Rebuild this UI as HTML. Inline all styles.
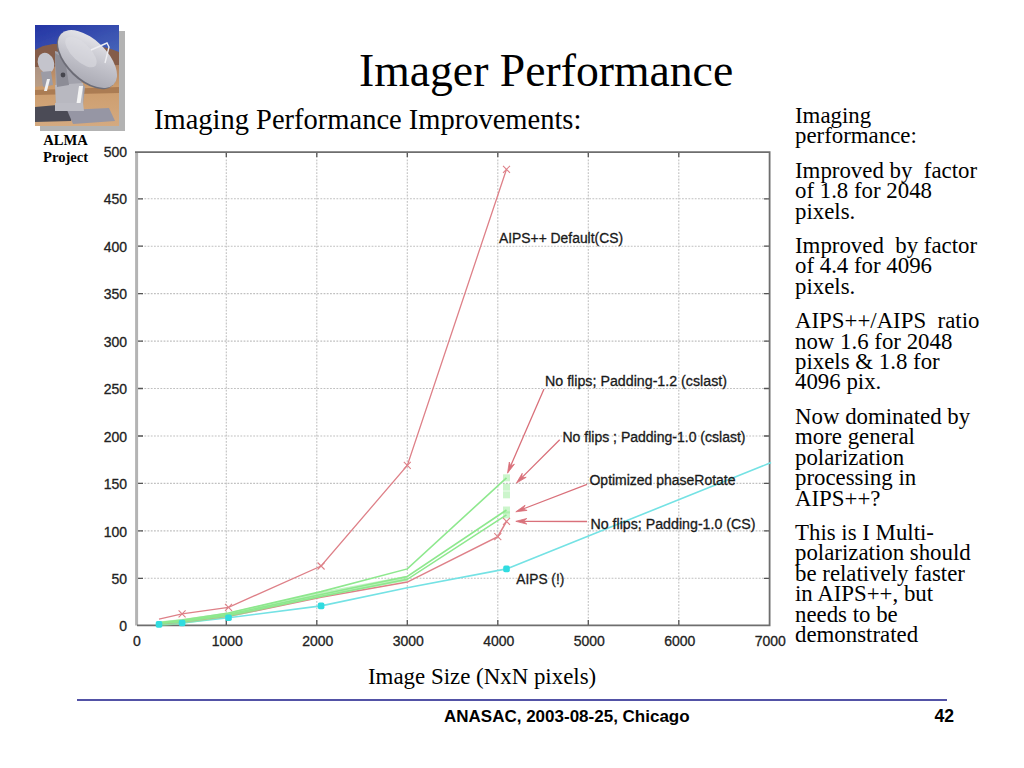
<!DOCTYPE html>
<html><head><meta charset="utf-8">
<style>
html,body{margin:0;padding:0;background:#fff;width:1024px;height:768px;overflow:hidden;position:relative}
.t{position:absolute;white-space:pre;color:#000;font-family:"Liberation Serif",serif}
#title{left:359px;top:48px;font-size:45.7px;line-height:45px}
#sub{left:154px;top:105.5px;font-size:28.5px;line-height:28px}
#right{left:795px;top:106px;font-size:22.85px;line-height:20.4px}
#right p{margin:0 0 14px 0}
#cap{left:368px;top:666px;font-size:22.9px;line-height:22px}
#alma{left:43px;top:132px;font-size:14.6px;line-height:17px;font-weight:bold;text-align:center}
.f{position:absolute;white-space:pre;font-family:"Liberation Sans",sans-serif;font-weight:bold;font-size:17px;line-height:17px;color:#000}
#foot{left:444px;top:707.5px}
#num{left:934.5px;top:707.5px;font-size:17.6px}
#rule{position:absolute;left:77px;top:699px;width:870px;height:2px;background:#5252a6}
svg{position:absolute;left:0;top:0}
</style></head><body>
<div id="title" class="t">Imager Performance</div>
<div id="sub" class="t">Imaging Performance Improvements:</div>
<div id="right" class="t"><p>Imaging
performance:</p><p>Improved by  factor
of 1.8 for 2048
pixels.</p><p>Improved  by factor
of 4.4 for 4096
pixels.</p><p>AIPS++/AIPS  ratio
now 1.6 for 2048
pixels &amp; 1.8 for
4096 pix.</p><p>Now dominated by
more general
polarization
processing in
AIPS++?</p><p>This is I Multi-
polarization should
be relatively faster
in AIPS++, but
needs to be
demonstrated</p></div>
<div id="cap" class="t">Image Size (NxN pixels)</div>
<div style="position:absolute;left:40px;top:31px;width:85px;height:100px;background:#b3b3b3"></div>
<svg style="left:35px;top:25px" width="84" height="101" viewBox="0 0 84 101">
<defs>
<linearGradient id="sky" x1="0" y1="0" x2="0.3" y2="1"><stop offset="0" stop-color="#2434a4"/><stop offset="0.6" stop-color="#4c6cbc"/><stop offset="1" stop-color="#8094c8"/></linearGradient>
<linearGradient id="gnd" x1="0" y1="0" x2="0" y2="1"><stop offset="0" stop-color="#b08464"/><stop offset="0.35" stop-color="#cc9c6c"/><stop offset="1" stop-color="#d4aa80"/></linearGradient>
<linearGradient id="dish" x1="0.1" y1="0" x2="0.9" y2="1"><stop offset="0" stop-color="#ececf0"/><stop offset="0.5" stop-color="#c4c4cc"/><stop offset="1" stop-color="#a4a4ae"/></linearGradient>
<filter id="bl" x="-5%" y="-5%" width="110%" height="110%"><feGaussianBlur stdDeviation="0.5"/></filter>
</defs>
<g filter="url(#bl)">
<rect width="84" height="101" fill="url(#sky)"/>
<path d="M0,25 L8,21 L18,19 L28,19 L40,21 L52,19 L64,21 L76,24 L84,27 L84,101 L0,101Z" fill="#845c48"/>
<path d="M0,42 L84,40 L84,101 L0,101Z" fill="url(#gnd)"/>
<path d="M0,65 L84,62 L84,68 L0,70Z" fill="#946440" opacity="0.6"/>
<path d="M0,42 L14,42 L14,60 L0,62Z" fill="#a8a0a0" opacity="0.5"/>
<ellipse cx="11" cy="38" rx="8" ry="10.5" transform="rotate(-20 11 38)" fill="#c4c4cc"/>
<path d="M6,47 L16,46 L18,60 L8,62Z" fill="#9c9ca6"/>
<path d="M12,54 L15,54 L12,66 L9,66Z" fill="#f0f0f0"/>
<path d="M20,26 L34,30 L46,56 L50,62 L48,80 L21,80Z" fill="#a2a2ac"/>
<path d="M20,60 L48,58 L48,80 L21,80Z" fill="#b8b8c0"/>
<path d="M20,28 L30,34 L34,60 L22,62Z" fill="#8c8c96"/>
<path d="M44,61 L48,61 L45,82 L41,82Z" fill="#f4f4f4"/>
<circle cx="28" cy="50" r="2.4" fill="#44444e"/>
<ellipse cx="51.5" cy="35" rx="36.5" ry="20" transform="rotate(44 51.5 35)" fill="#6c6c76"/><ellipse cx="52.5" cy="34" rx="36.5" ry="19.5" transform="rotate(44 52.5 34)" fill="url(#dish)"/>

<ellipse cx="46" cy="27" rx="20" ry="9" transform="rotate(44 46 27)" fill="#dedee4" opacity="0.55"/>
<path d="M56,25 L72,18 L74,22 L70,38" stroke="#eeeef2" stroke-width="1.4" fill="none"/>
<path d="M0,82 L22,80 L40,84 L36,96 L0,97Z" fill="#4c4c56"/>
<path d="M32,85 L74,83 L80,96 L38,99Z" fill="#9696a4"/>
<path d="M20,78 L48,78 L49,86 L20,86Z" fill="#bcbcc4"/>
</g>
</svg>
<div id="alma" class="t">ALMA
Project</div>
<div id="rule"></div>
<div id="foot" class="f">ANASAC, 2003-08-25, Chicago</div>
<div id="num" class="f">42</div>
<!--CHART--><svg width="1024" height="768" viewBox="0 0 1024 768">
<path d="M226.3,153V625M316.8,153V625M407.3,153V625M497.8,153V625M588.3,153V625M678.8,153V625M138,578.3H769M138,530.9H769M138,483.4H769M138,436.0H769M138,388.5H769M138,341.1H769M138,293.6H769M138,246.2H769M138,198.8H769" stroke="#c0c0c0" stroke-width="1.1" stroke-dasharray="1.8,1.4" fill="none"/>
<path d="M226.3,153v4M226.3,625v-5M316.8,153v4M316.8,625v-5M407.3,153v4M407.3,625v-5M497.8,153v4M497.8,625v-5M588.3,153v4M588.3,625v-5M678.8,153v4M678.8,625v-5M138,578.3h5M769,578.3h-5M138,530.9h5M769,530.9h-5M138,483.4h5M769,483.4h-5M138,436.0h5M769,436.0h-5M138,388.5h5M769,388.5h-5M138,341.1h5M769,341.1h-5M138,293.6h5M769,293.6h-5M138,246.2h5M769,246.2h-5M138,198.8h5M769,198.8h-5" stroke="#555" stroke-width="1.3" fill="none"/>
<path d="M136.6,152.2V625.5" stroke="#b4b4b4" stroke-width="3" fill="none"/>
<path d="M135,152.2H769.6V625.4H137" stroke="#6e6e6e" stroke-width="1.8" fill="none"/>
<g font-family="Liberation Sans" font-size="14" fill="#222" stroke="#222" stroke-width="0.3"><text x="127" y="631.4" text-anchor="end">0</text><text x="127" y="583.9" text-anchor="end">50</text><text x="127" y="536.5" text-anchor="end">100</text><text x="127" y="489.0" text-anchor="end">150</text><text x="127" y="441.6" text-anchor="end">200</text><text x="127" y="394.1" text-anchor="end">250</text><text x="127" y="346.7" text-anchor="end">300</text><text x="127" y="299.2" text-anchor="end">350</text><text x="127" y="251.8" text-anchor="end">400</text><text x="127" y="204.3" text-anchor="end">450</text><text x="127" y="156.9" text-anchor="end">500</text><text x="136.8" y="645.5" text-anchor="middle">0</text><text x="227.3" y="645.5" text-anchor="middle">1000</text><text x="317.8" y="645.5" text-anchor="middle">2000</text><text x="408.3" y="645.5" text-anchor="middle">3000</text><text x="498.8" y="645.5" text-anchor="middle">4000</text><text x="589.3" y="645.5" text-anchor="middle">5000</text><text x="679.8" y="645.5" text-anchor="middle">6000</text><text x="770.3" y="645.5" text-anchor="middle">7000</text></g>
<polyline points="159.0,624.4 182.1,623.0 228.5,617.7 321.1,605.9 407.3,587.8 506.5,568.9 771.1,462.6" fill="none" stroke="#74e2e4" stroke-width="1.6"/>
<polyline points="159.0,623.9 182.1,622.0 228.5,616.3 321.1,597.3 407.3,582.1 497.8,536.6 506.5,521.4" fill="none" stroke="#de8088" stroke-width="1.6"/>
<polyline points="159.0,623.4 182.1,621.5 228.5,615.4 321.1,596.4 407.3,579.3 506.5,514.8" fill="none" stroke="#8ee88e" stroke-width="1.6"/>
<polyline points="159.0,623.0 182.1,621.1 228.5,614.4 321.1,594.5 407.3,576.5 506.5,510.0" fill="none" stroke="#8ee88e" stroke-width="1.6"/>
<polyline points="159.0,622.5 182.1,620.1 228.5,613.0 321.1,591.6 407.3,568.9 506.5,477.8" fill="none" stroke="#8ee88e" stroke-width="1.6"/>
<polyline points="159.0,623.9 182.1,621.5 228.5,614.9 321.1,594.5 407.3,578.3" fill="none" stroke="#8ee88e" stroke-width="5" opacity="0.55"/>
<rect x="503.0" y="474.3" width="7" height="7" fill="#8ee88e" opacity="0.45"/><rect x="503.0" y="483.7" width="7" height="7" fill="#8ee88e" opacity="0.45"/><rect x="503.0" y="491.3" width="7" height="7" fill="#8ee88e" opacity="0.45"/><rect x="503.0" y="506.5" width="7" height="7" fill="#8ee88e" opacity="0.45"/><rect x="503.0" y="511.3" width="7" height="7" fill="#8ee88e" opacity="0.45"/>
<polyline points="159.0,619.2 182.1,613.9 228.5,607.3 321.1,566.0 407.3,465.4 506.5,169.3" fill="none" stroke="#de8088" stroke-width="1.3"/>
<path d="M178.6,610.4l7,7m0,-7l-7,7M225.0,603.8l7,7m0,-7l-7,7M317.6,562.5l7,7m0,-7l-7,7M403.8,461.9l7,7m0,-7l-7,7M503.0,165.8l7,7m0,-7l-7,7M503.0,517.9l7,7m0,-7l-7,7M494.3,533.1l7,7m0,-7l-7,7" stroke="#de8088" stroke-width="1.1" fill="none"/>
<rect x="155.7" y="621.1" width="6.6" height="6.6" rx="1.8" fill="#30dce0"/><rect x="178.8" y="619.7" width="6.6" height="6.6" rx="1.8" fill="#30dce0"/><rect x="225.2" y="614.4" width="6.6" height="6.6" rx="1.8" fill="#30dce0"/><rect x="317.8" y="602.6" width="6.6" height="6.6" rx="1.8" fill="#30dce0"/><rect x="503.2" y="565.6" width="6.6" height="6.6" rx="1.8" fill="#30dce0"/>
<path d="M544,389L510.6,466.1M559.7,439.7L521.8,477.6M587,484.3L523.0,509.0M587,521.5L523.5,521.3" stroke="#d9707a" stroke-width="1.3" fill="none"/>
<path d="M507.5,473.2L509.3,462.0L510.6,466.1L514.4,464.2ZM516.4,483.1L522.2,473.3L521.8,477.6L526.2,477.3ZM515.8,511.8L525.1,505.2L523.0,509.0L527.1,510.4ZM515.8,521.3L526.8,518.5L523.5,521.3L526.8,524.1Z" fill="#d9707a" stroke="#d9707a" stroke-width="0.8" stroke-linejoin="round"/>
<g font-family="Liberation Sans" font-size="14" fill="#1a1a1a" stroke="#1a1a1a" stroke-width="0.3"><text x="499" y="243.1" textLength="124" lengthAdjust="spacingAndGlyphs">AIPS++ Default(CS)</text><text x="545" y="385.9" textLength="182" lengthAdjust="spacingAndGlyphs">No flips; Padding-1.2 (cslast)</text><text x="562.5" y="441.59999999999997" textLength="183" lengthAdjust="spacingAndGlyphs">No flips ; Padding-1.0 (cslast)</text><text x="589.5" y="485.0" textLength="146" lengthAdjust="spacingAndGlyphs">Optimized phaseRotate</text><text x="590.5" y="528.7" textLength="165" lengthAdjust="spacingAndGlyphs">No flips; Padding-1.0 (CS)</text><text x="516.3" y="583.8000000000001" textLength="48" lengthAdjust="spacingAndGlyphs">AIPS (!)</text></g>
</svg><!--/CHART-->
</body></html>
